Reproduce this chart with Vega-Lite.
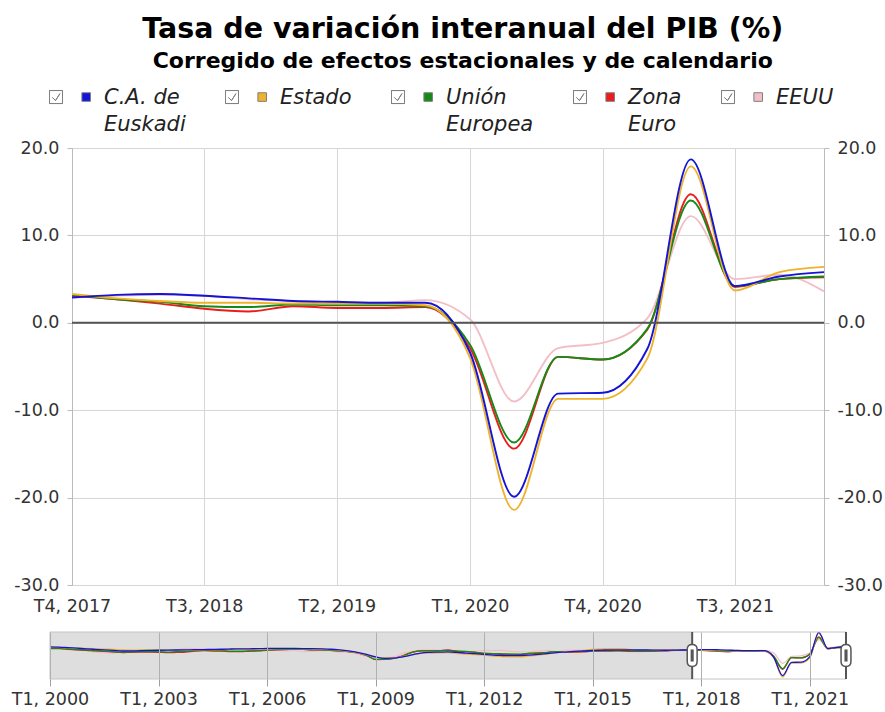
{
  "$schema": "https://vega.github.io/schema/vega-lite/v6.json",
  "background": "white",
  "padding": {"left": 11, "right": 3, "top": 14, "bottom": 3},
  "config": {
    "font": "DejaVu Sans",
    "view": {"stroke": null},
    "axis": {"labelFont": "DejaVu Sans", "labelFontSize": 17.5, "labelColor": "#333333", "gridColor": "#d6d6d6", "domainColor": "#bbbbbb", "tickColor": "#bbbbbb", "title": null}
  },
  "title": {
    "text": "Tasa de variación interanual del PIB (%)",
    "subtitle": "Corregido de efectos estacionales y de calendario",
    "font": "DejaVu Sans", "subtitleFont": "DejaVu Sans",
    "fontSize": 28.5, "subtitleFontSize": 22,
    "fontWeight": "bold", "subtitleFontWeight": "bold",
    "color": "#000000", "subtitleColor": "#000000",
    "anchor": "middle", "subtitlePadding": 8, "offset": -6, "dx": 16
  },
  "datasets": {
    "rango": [{"limite": "2017/10/01"}, {"limite": "2022/01/01"}],
    "pib": [
{"fecha":"2000/01/01","serie":"EEUU","valor":4.2},{"fecha":"2000/04/01","serie":"EEUU","valor":5.2},{"fecha":"2000/07/01","serie":"EEUU","valor":4.0},{"fecha":"2000/10/01","serie":"EEUU","valor":3.0},
{"fecha":"2001/01/01","serie":"EEUU","valor":2.3},{"fecha":"2001/04/01","serie":"EEUU","valor":1.0},{"fecha":"2001/07/01","serie":"EEUU","valor":0.5},{"fecha":"2001/10/01","serie":"EEUU","valor":0.2},
{"fecha":"2002/01/01","serie":"EEUU","valor":1.3},{"fecha":"2002/04/01","serie":"EEUU","valor":1.8},{"fecha":"2002/07/01","serie":"EEUU","valor":2.3},{"fecha":"2002/10/01","serie":"EEUU","valor":2.0},
{"fecha":"2003/01/01","serie":"EEUU","valor":2.0},{"fecha":"2003/04/01","serie":"EEUU","valor":2.3},{"fecha":"2003/07/01","serie":"EEUU","valor":3.3},{"fecha":"2003/10/01","serie":"EEUU","valor":4.3},
{"fecha":"2004/01/01","serie":"EEUU","valor":4.2},{"fecha":"2004/04/01","serie":"EEUU","valor":3.9},{"fecha":"2004/07/01","serie":"EEUU","valor":3.6},{"fecha":"2004/10/01","serie":"EEUU","valor":3.2},
{"fecha":"2005/01/01","serie":"EEUU","valor":3.7},{"fecha":"2005/04/01","serie":"EEUU","valor":3.4},{"fecha":"2005/07/01","serie":"EEUU","valor":3.4},{"fecha":"2005/10/01","serie":"EEUU","valor":3.0},
{"fecha":"2006/01/01","serie":"EEUU","valor":3.2},{"fecha":"2006/04/01","serie":"EEUU","valor":2.7},{"fecha":"2006/07/01","serie":"EEUU","valor":2.3},{"fecha":"2006/10/01","serie":"EEUU","valor":2.6},
{"fecha":"2007/01/01","serie":"EEUU","valor":1.5},{"fecha":"2007/04/01","serie":"EEUU","valor":1.8},{"fecha":"2007/07/01","serie":"EEUU","valor":2.3},{"fecha":"2007/10/01","serie":"EEUU","valor":2.0},
{"fecha":"2008/01/01","serie":"EEUU","valor":1.1},{"fecha":"2008/04/01","serie":"EEUU","valor":1.0},{"fecha":"2008/07/01","serie":"EEUU","valor":-0.5},{"fecha":"2008/10/01","serie":"EEUU","valor":-2.8},
{"fecha":"2009/01/01","serie":"EEUU","valor":-3.3},{"fecha":"2009/04/01","serie":"EEUU","valor":-4.0},{"fecha":"2009/07/01","serie":"EEUU","valor":-3.3},{"fecha":"2009/10/01","serie":"EEUU","valor":-0.2},
{"fecha":"2010/01/01","serie":"EEUU","valor":1.6},{"fecha":"2010/04/01","serie":"EEUU","valor":2.7},{"fecha":"2010/07/01","serie":"EEUU","valor":3.1},{"fecha":"2010/10/01","serie":"EEUU","valor":2.8},
{"fecha":"2011/01/01","serie":"EEUU","valor":1.9},{"fecha":"2011/04/01","serie":"EEUU","valor":1.7},{"fecha":"2011/07/01","serie":"EEUU","valor":1.2},{"fecha":"2011/10/01","serie":"EEUU","valor":1.6},
{"fecha":"2012/01/01","serie":"EEUU","valor":2.6},{"fecha":"2012/04/01","serie":"EEUU","valor":2.4},{"fecha":"2012/07/01","serie":"EEUU","valor":2.5},{"fecha":"2012/10/01","serie":"EEUU","valor":1.6},
{"fecha":"2013/01/01","serie":"EEUU","valor":1.3},{"fecha":"2013/04/01","serie":"EEUU","valor":1.2},{"fecha":"2013/07/01","serie":"EEUU","valor":2.0},{"fecha":"2013/10/01","serie":"EEUU","valor":2.6},
{"fecha":"2014/01/01","serie":"EEUU","valor":1.5},{"fecha":"2014/04/01","serie":"EEUU","valor":2.5},{"fecha":"2014/07/01","serie":"EEUU","valor":2.8},{"fecha":"2014/10/01","serie":"EEUU","valor":2.6},
{"fecha":"2015/01/01","serie":"EEUU","valor":3.7},{"fecha":"2015/04/01","serie":"EEUU","valor":3.2},{"fecha":"2015/07/01","serie":"EEUU","valor":2.4},{"fecha":"2015/10/01","serie":"EEUU","valor":2.2},
{"fecha":"2016/01/01","serie":"EEUU","valor":1.5},{"fecha":"2016/04/01","serie":"EEUU","valor":1.3},{"fecha":"2016/07/01","serie":"EEUU","valor":1.6},{"fecha":"2016/10/01","serie":"EEUU","valor":2.0},
{"fecha":"2017/01/01","serie":"EEUU","valor":1.9},{"fecha":"2017/04/01","serie":"EEUU","valor":2.2},{"fecha":"2017/07/01","serie":"EEUU","valor":2.4},{"fecha":"2017/10/01","serie":"EEUU","valor":2.9},
{"fecha":"2018/01/01","serie":"EEUU","valor":3.1},{"fecha":"2018/04/01","serie":"EEUU","valor":3.2},{"fecha":"2018/07/01","serie":"EEUU","valor":3.1},{"fecha":"2018/10/01","serie":"EEUU","valor":2.7},
{"fecha":"2019/01/01","serie":"EEUU","valor":2.5},{"fecha":"2019/04/01","serie":"EEUU","valor":2.3},{"fecha":"2019/07/01","serie":"EEUU","valor":2.3},{"fecha":"2019/10/01","serie":"EEUU","valor":2.6},
{"fecha":"2020/01/01","serie":"EEUU","valor":0.4},{"fecha":"2020/04/01","serie":"EEUU","valor":-9.0},{"fecha":"2020/07/01","serie":"EEUU","valor":-2.9},{"fecha":"2020/10/01","serie":"EEUU","valor":-2.3},
{"fecha":"2021/01/01","serie":"EEUU","valor":0.5},{"fecha":"2021/04/01","serie":"EEUU","valor":12.2},{"fecha":"2021/07/01","serie":"EEUU","valor":5.0},{"fecha":"2021/10/01","serie":"EEUU","valor":5.5},
{"fecha":"2022/01/01","serie":"EEUU","valor":3.6},
{"fecha":"2000/01/01","serie":"Zona Euro","valor":4.3},{"fecha":"2000/04/01","serie":"Zona Euro","valor":4.2},{"fecha":"2000/07/01","serie":"Zona Euro","valor":3.6},{"fecha":"2000/10/01","serie":"Zona Euro","valor":3.1},
{"fecha":"2001/01/01","serie":"Zona Euro","valor":2.7},{"fecha":"2001/04/01","serie":"Zona Euro","valor":2.1},{"fecha":"2001/07/01","serie":"Zona Euro","valor":1.7},{"fecha":"2001/10/01","serie":"Zona Euro","valor":1.2},
{"fecha":"2002/01/01","serie":"Zona Euro","valor":0.6},{"fecha":"2002/04/01","serie":"Zona Euro","valor":0.9},{"fecha":"2002/07/01","serie":"Zona Euro","valor":1.0},{"fecha":"2002/10/01","serie":"Zona Euro","valor":1.1},
{"fecha":"2003/01/01","serie":"Zona Euro","valor":0.9},{"fecha":"2003/04/01","serie":"Zona Euro","valor":0.5},{"fecha":"2003/07/01","serie":"Zona Euro","valor":0.8},{"fecha":"2003/10/01","serie":"Zona Euro","valor":1.1},
{"fecha":"2004/01/01","serie":"Zona Euro","valor":1.9},{"fecha":"2004/04/01","serie":"Zona Euro","valor":2.3},{"fecha":"2004/07/01","serie":"Zona Euro","valor":2.0},{"fecha":"2004/10/01","serie":"Zona Euro","valor":1.9},
{"fecha":"2005/01/01","serie":"Zona Euro","valor":1.5},{"fecha":"2005/04/01","serie":"Zona Euro","valor":1.5},{"fecha":"2005/07/01","serie":"Zona Euro","valor":1.8},{"fecha":"2005/10/01","serie":"Zona Euro","valor":2.1},
{"fecha":"2006/01/01","serie":"Zona Euro","valor":2.7},{"fecha":"2006/04/01","serie":"Zona Euro","valor":3.1},{"fecha":"2006/07/01","serie":"Zona Euro","valor":3.2},{"fecha":"2006/10/01","serie":"Zona Euro","valor":3.6},
{"fecha":"2007/01/01","serie":"Zona Euro","valor":3.6},{"fecha":"2007/04/01","serie":"Zona Euro","valor":3.0},{"fecha":"2007/07/01","serie":"Zona Euro","valor":3.0},{"fecha":"2007/10/01","serie":"Zona Euro","valor":2.5},
{"fecha":"2008/01/01","serie":"Zona Euro","valor":2.2},{"fecha":"2008/04/01","serie":"Zona Euro","valor":1.5},{"fecha":"2008/07/01","serie":"Zona Euro","valor":0.4},{"fecha":"2008/10/01","serie":"Zona Euro","valor":-1.9},
{"fecha":"2009/01/01","serie":"Zona Euro","valor":-5.6},{"fecha":"2009/04/01","serie":"Zona Euro","valor":-5.5},{"fecha":"2009/07/01","serie":"Zona Euro","valor":-4.6},{"fecha":"2009/10/01","serie":"Zona Euro","valor":-2.3},
{"fecha":"2010/01/01","serie":"Zona Euro","valor":0.9},{"fecha":"2010/04/01","serie":"Zona Euro","valor":2.2},{"fecha":"2010/07/01","serie":"Zona Euro","valor":2.2},{"fecha":"2010/10/01","serie":"Zona Euro","valor":2.2},
{"fecha":"2011/01/01","serie":"Zona Euro","valor":2.9},{"fecha":"2011/04/01","serie":"Zona Euro","valor":1.8},{"fecha":"2011/07/01","serie":"Zona Euro","valor":1.4},{"fecha":"2011/10/01","serie":"Zona Euro","valor":0.7},
{"fecha":"2012/01/01","serie":"Zona Euro","valor":-0.4},{"fecha":"2012/04/01","serie":"Zona Euro","valor":-0.6},{"fecha":"2012/07/01","serie":"Zona Euro","valor":-0.9},{"fecha":"2012/10/01","serie":"Zona Euro","valor":-1.0},
{"fecha":"2013/01/01","serie":"Zona Euro","valor":-1.2},{"fecha":"2013/04/01","serie":"Zona Euro","valor":-0.4},{"fecha":"2013/07/01","serie":"Zona Euro","valor":-0.1},{"fecha":"2013/10/01","serie":"Zona Euro","valor":0.6},
{"fecha":"2014/01/01","serie":"Zona Euro","valor":1.4},{"fecha":"2014/04/01","serie":"Zona Euro","valor":1.0},{"fecha":"2014/07/01","serie":"Zona Euro","valor":1.1},{"fecha":"2014/10/01","serie":"Zona Euro","valor":1.3},
{"fecha":"2015/01/01","serie":"Zona Euro","valor":1.9},{"fecha":"2015/04/01","serie":"Zona Euro","valor":2.0},{"fecha":"2015/07/01","serie":"Zona Euro","valor":2.0},{"fecha":"2015/10/01","serie":"Zona Euro","valor":2.2},
{"fecha":"2016/01/01","serie":"Zona Euro","valor":1.8},{"fecha":"2016/04/01","serie":"Zona Euro","valor":1.7},{"fecha":"2016/07/01","serie":"Zona Euro","valor":1.7},{"fecha":"2016/10/01","serie":"Zona Euro","valor":2.0},
{"fecha":"2017/01/01","serie":"Zona Euro","valor":2.2},{"fecha":"2017/04/01","serie":"Zona Euro","valor":2.6},{"fecha":"2017/07/01","serie":"Zona Euro","valor":2.9},{"fecha":"2017/10/01","serie":"Zona Euro","valor":3.1},
{"fecha":"2018/01/01","serie":"Zona Euro","valor":2.7},{"fecha":"2018/04/01","serie":"Zona Euro","valor":2.2},{"fecha":"2018/07/01","serie":"Zona Euro","valor":1.6},{"fecha":"2018/10/01","serie":"Zona Euro","valor":1.3},
{"fecha":"2019/01/01","serie":"Zona Euro","valor":1.9},{"fecha":"2019/04/01","serie":"Zona Euro","valor":1.7},{"fecha":"2019/07/01","serie":"Zona Euro","valor":1.7},{"fecha":"2019/10/01","serie":"Zona Euro","valor":1.8},
{"fecha":"2020/01/01","serie":"Zona Euro","valor":-2.9},{"fecha":"2020/04/01","serie":"Zona Euro","valor":-14.4},{"fecha":"2020/07/01","serie":"Zona Euro","valor":-3.9},{"fecha":"2020/10/01","serie":"Zona Euro","valor":-4.2},
{"fecha":"2021/01/01","serie":"Zona Euro","valor":-0.8},{"fecha":"2021/04/01","serie":"Zona Euro","valor":14.7},{"fecha":"2021/07/01","serie":"Zona Euro","valor":4.1},{"fecha":"2021/10/01","serie":"Zona Euro","valor":5.0},
{"fecha":"2022/01/01","serie":"Zona Euro","valor":5.2},
{"fecha":"2000/01/01","serie":"Unión Europea","valor":4.2},{"fecha":"2000/04/01","serie":"Unión Europea","valor":4.3},{"fecha":"2000/07/01","serie":"Unión Europea","valor":3.8},{"fecha":"2000/10/01","serie":"Unión Europea","valor":3.3},
{"fecha":"2001/01/01","serie":"Unión Europea","valor":2.8},{"fecha":"2001/04/01","serie":"Unión Europea","valor":2.3},{"fecha":"2001/07/01","serie":"Unión Europea","valor":1.9},{"fecha":"2001/10/01","serie":"Unión Europea","valor":1.3},
{"fecha":"2002/01/01","serie":"Unión Europea","valor":1.0},{"fecha":"2002/04/01","serie":"Unión Europea","valor":1.2},{"fecha":"2002/07/01","serie":"Unión Europea","valor":1.4},{"fecha":"2002/10/01","serie":"Unión Europea","valor":1.5},
{"fecha":"2003/01/01","serie":"Unión Europea","valor":1.3},{"fecha":"2003/04/01","serie":"Unión Europea","valor":1.1},{"fecha":"2003/07/01","serie":"Unión Europea","valor":1.4},{"fecha":"2003/10/01","serie":"Unión Europea","valor":1.6},
{"fecha":"2004/01/01","serie":"Unión Europea","valor":2.3},{"fecha":"2004/04/01","serie":"Unión Europea","valor":2.7},{"fecha":"2004/07/01","serie":"Unión Europea","valor":2.5},{"fecha":"2004/10/01","serie":"Unión Europea","valor":2.4},
{"fecha":"2005/01/01","serie":"Unión Europea","valor":1.8},{"fecha":"2005/04/01","serie":"Unión Europea","valor":1.8},{"fecha":"2005/07/01","serie":"Unión Europea","valor":2.1},{"fecha":"2005/10/01","serie":"Unión Europea","valor":2.3},
{"fecha":"2006/01/01","serie":"Unión Europea","valor":3.0},{"fecha":"2006/04/01","serie":"Unión Europea","valor":3.3},{"fecha":"2006/07/01","serie":"Unión Europea","valor":3.5},{"fecha":"2006/10/01","serie":"Unión Europea","valor":3.6},
{"fecha":"2007/01/01","serie":"Unión Europea","valor":3.6},{"fecha":"2007/04/01","serie":"Unión Europea","valor":3.1},{"fecha":"2007/07/01","serie":"Unión Europea","valor":3.1},{"fecha":"2007/10/01","serie":"Unión Europea","valor":2.6},
{"fecha":"2008/01/01","serie":"Unión Europea","valor":2.2},{"fecha":"2008/04/01","serie":"Unión Europea","valor":1.5},{"fecha":"2008/07/01","serie":"Unión Europea","valor":0.4},{"fecha":"2008/10/01","serie":"Unión Europea","valor":-2.0},
{"fecha":"2009/01/01","serie":"Unión Europea","valor":-5.5},{"fecha":"2009/04/01","serie":"Unión Europea","valor":-5.5},{"fecha":"2009/07/01","serie":"Unión Europea","valor":-4.6},{"fecha":"2009/10/01","serie":"Unión Europea","valor":-2.5},
{"fecha":"2010/01/01","serie":"Unión Europea","valor":0.7},{"fecha":"2010/04/01","serie":"Unión Europea","valor":2.2},{"fecha":"2010/07/01","serie":"Unión Europea","valor":2.3},{"fecha":"2010/10/01","serie":"Unión Europea","valor":2.3},
{"fecha":"2011/01/01","serie":"Unión Europea","valor":2.6},{"fecha":"2011/04/01","serie":"Unión Europea","valor":1.8},{"fecha":"2011/07/01","serie":"Unión Europea","valor":1.6},{"fecha":"2011/10/01","serie":"Unión Europea","valor":0.9},
{"fecha":"2012/01/01","serie":"Unión Europea","valor":0.2},{"fecha":"2012/04/01","serie":"Unión Europea","valor":-0.3},{"fecha":"2012/07/01","serie":"Unión Europea","valor":-0.5},{"fecha":"2012/10/01","serie":"Unión Europea","valor":-0.7},
{"fecha":"2013/01/01","serie":"Unión Europea","valor":-0.7},{"fecha":"2013/04/01","serie":"Unión Europea","valor":0.0},{"fecha":"2013/07/01","serie":"Unión Europea","valor":0.4},{"fecha":"2013/10/01","serie":"Unión Europea","valor":0.8},
{"fecha":"2014/01/01","serie":"Unión Europea","valor":1.5},{"fecha":"2014/04/01","serie":"Unión Europea","valor":1.4},{"fecha":"2014/07/01","serie":"Unión Europea","valor":1.5},{"fecha":"2014/10/01","serie":"Unión Europea","valor":1.7},
{"fecha":"2015/01/01","serie":"Unión Europea","valor":2.0},{"fecha":"2015/04/01","serie":"Unión Europea","valor":2.3},{"fecha":"2015/07/01","serie":"Unión Europea","valor":2.3},{"fecha":"2015/10/01","serie":"Unión Europea","valor":2.4},
{"fecha":"2016/01/01","serie":"Unión Europea","valor":2.2},{"fecha":"2016/04/01","serie":"Unión Europea","valor":2.0},{"fecha":"2016/07/01","serie":"Unión Europea","valor":1.9},{"fecha":"2016/10/01","serie":"Unión Europea","valor":2.1},
{"fecha":"2017/01/01","serie":"Unión Europea","valor":2.3},{"fecha":"2017/04/01","serie":"Unión Europea","valor":2.8},{"fecha":"2017/07/01","serie":"Unión Europea","valor":3.0},{"fecha":"2017/10/01","serie":"Unión Europea","valor":3.2},
{"fecha":"2018/01/01","serie":"Unión Europea","valor":2.7},{"fecha":"2018/04/01","serie":"Unión Europea","valor":2.4},{"fecha":"2018/07/01","serie":"Unión Europea","valor":1.9},{"fecha":"2018/10/01","serie":"Unión Europea","valor":1.8},
{"fecha":"2019/01/01","serie":"Unión Europea","valor":2.1},{"fecha":"2019/04/01","serie":"Unión Europea","valor":2.0},{"fecha":"2019/07/01","serie":"Unión Europea","valor":2.0},{"fecha":"2019/10/01","serie":"Unión Europea","valor":1.9},
{"fecha":"2020/01/01","serie":"Unión Europea","valor":-2.5},{"fecha":"2020/04/01","serie":"Unión Europea","valor":-13.7},{"fecha":"2020/07/01","serie":"Unión Europea","valor":-3.9},{"fecha":"2020/10/01","serie":"Unión Europea","valor":-4.2},
{"fecha":"2021/01/01","serie":"Unión Europea","valor":-0.7},{"fecha":"2021/04/01","serie":"Unión Europea","valor":14.0},{"fecha":"2021/07/01","serie":"Unión Europea","valor":4.2},{"fecha":"2021/10/01","serie":"Unión Europea","valor":5.0},
{"fecha":"2022/01/01","serie":"Unión Europea","valor":5.3},
{"fecha":"2000/01/01","serie":"Estado","valor":5.4},{"fecha":"2000/04/01","serie":"Estado","valor":5.3},{"fecha":"2000/07/01","serie":"Estado","valor":5.0},{"fecha":"2000/10/01","serie":"Estado","valor":4.5},
{"fecha":"2001/01/01","serie":"Estado","valor":4.4},{"fecha":"2001/04/01","serie":"Estado","valor":4.0},{"fecha":"2001/07/01","serie":"Estado","valor":3.7},{"fecha":"2001/10/01","serie":"Estado","valor":3.4},
{"fecha":"2002/01/01","serie":"Estado","valor":2.9},{"fecha":"2002/04/01","serie":"Estado","valor":2.8},{"fecha":"2002/07/01","serie":"Estado","valor":2.9},{"fecha":"2002/10/01","serie":"Estado","valor":2.9},
{"fecha":"2003/01/01","serie":"Estado","valor":3.0},{"fecha":"2003/04/01","serie":"Estado","valor":3.0},{"fecha":"2003/07/01","serie":"Estado","valor":3.1},{"fecha":"2003/10/01","serie":"Estado","valor":3.1},
{"fecha":"2004/01/01","serie":"Estado","valor":3.1},{"fecha":"2004/04/01","serie":"Estado","valor":3.2},{"fecha":"2004/07/01","serie":"Estado","valor":3.2},{"fecha":"2004/10/01","serie":"Estado","valor":3.3},
{"fecha":"2005/01/01","serie":"Estado","valor":3.6},{"fecha":"2005/04/01","serie":"Estado","valor":3.7},{"fecha":"2005/07/01","serie":"Estado","valor":3.7},{"fecha":"2005/10/01","serie":"Estado","valor":3.8},
{"fecha":"2006/01/01","serie":"Estado","valor":4.0},{"fecha":"2006/04/01","serie":"Estado","valor":4.1},{"fecha":"2006/07/01","serie":"Estado","valor":4.1},{"fecha":"2006/10/01","serie":"Estado","valor":4.1},
{"fecha":"2007/01/01","serie":"Estado","valor":4.0},{"fecha":"2007/04/01","serie":"Estado","valor":3.8},{"fecha":"2007/07/01","serie":"Estado","valor":3.6},{"fecha":"2007/10/01","serie":"Estado","valor":3.3},
{"fecha":"2008/01/01","serie":"Estado","valor":2.7},{"fecha":"2008/04/01","serie":"Estado","valor":1.8},{"fecha":"2008/07/01","serie":"Estado","valor":0.4},{"fecha":"2008/10/01","serie":"Estado","valor":-1.3},
{"fecha":"2009/01/01","serie":"Estado","valor":-3.4},{"fecha":"2009/04/01","serie":"Estado","valor":-4.4},{"fecha":"2009/07/01","serie":"Estado","valor":-4.2},{"fecha":"2009/10/01","serie":"Estado","valor":-3.0},
{"fecha":"2010/01/01","serie":"Estado","valor":-1.4},{"fecha":"2010/04/01","serie":"Estado","valor":-0.1},{"fecha":"2010/07/01","serie":"Estado","valor":0.1},{"fecha":"2010/10/01","serie":"Estado","valor":0.3},
{"fecha":"2011/01/01","serie":"Estado","valor":0.5},{"fecha":"2011/04/01","serie":"Estado","valor":-0.2},{"fecha":"2011/07/01","serie":"Estado","valor":-0.8},{"fecha":"2011/10/01","serie":"Estado","valor":-1.1},
{"fecha":"2012/01/01","serie":"Estado","valor":-1.7},{"fecha":"2012/04/01","serie":"Estado","valor":-2.5},{"fecha":"2012/07/01","serie":"Estado","valor":-3.0},{"fecha":"2012/10/01","serie":"Estado","valor":-3.3},
{"fecha":"2013/01/01","serie":"Estado","valor":-3.2},{"fecha":"2013/04/01","serie":"Estado","valor":-2.3},{"fecha":"2013/07/01","serie":"Estado","valor":-1.6},{"fecha":"2013/10/01","serie":"Estado","valor":-0.5},
{"fecha":"2014/01/01","serie":"Estado","valor":0.6},{"fecha":"2014/04/01","serie":"Estado","valor":1.4},{"fecha":"2014/07/01","serie":"Estado","valor":2.1},{"fecha":"2014/10/01","serie":"Estado","valor":2.6},
{"fecha":"2015/01/01","serie":"Estado","valor":3.4},{"fecha":"2015/04/01","serie":"Estado","valor":4.0},{"fecha":"2015/07/01","serie":"Estado","valor":4.2},{"fecha":"2015/10/01","serie":"Estado","valor":4.2},
{"fecha":"2016/01/01","serie":"Estado","valor":3.5},{"fecha":"2016/04/01","serie":"Estado","valor":3.1},{"fecha":"2016/07/01","serie":"Estado","valor":2.9},{"fecha":"2016/10/01","serie":"Estado","valor":2.9},
{"fecha":"2017/01/01","serie":"Estado","valor":3.0},{"fecha":"2017/04/01","serie":"Estado","valor":3.1},{"fecha":"2017/07/01","serie":"Estado","valor":3.0},{"fecha":"2017/10/01","serie":"Estado","valor":3.3},
{"fecha":"2018/01/01","serie":"Estado","valor":2.8},{"fecha":"2018/04/01","serie":"Estado","valor":2.5},{"fecha":"2018/07/01","serie":"Estado","valor":2.3},{"fecha":"2018/10/01","serie":"Estado","valor":2.3},
{"fecha":"2019/01/01","serie":"Estado","valor":2.2},{"fecha":"2019/04/01","serie":"Estado","valor":2.2},{"fecha":"2019/07/01","serie":"Estado","valor":2.2},{"fecha":"2019/10/01","serie":"Estado","valor":2.0},
{"fecha":"2020/01/01","serie":"Estado","valor":-4.0},{"fecha":"2020/04/01","serie":"Estado","valor":-21.4},{"fecha":"2020/07/01","serie":"Estado","valor":-8.7},{"fecha":"2020/10/01","serie":"Estado","valor":-8.7},
{"fecha":"2021/01/01","serie":"Estado","valor":-4.1},{"fecha":"2021/04/01","serie":"Estado","valor":17.9},{"fecha":"2021/07/01","serie":"Estado","valor":3.7},{"fecha":"2021/10/01","serie":"Estado","valor":5.8},
{"fecha":"2022/01/01","serie":"Estado","valor":6.4},
{"fecha":"2000/01/01","serie":"C.A. de Euskadi","valor":5.8},{"fecha":"2000/04/01","serie":"C.A. de Euskadi","valor":5.5},{"fecha":"2000/07/01","serie":"C.A. de Euskadi","valor":5.0},{"fecha":"2000/10/01","serie":"C.A. de Euskadi","valor":4.5},
{"fecha":"2001/01/01","serie":"C.A. de Euskadi","valor":4.0},{"fecha":"2001/04/01","serie":"C.A. de Euskadi","valor":3.5},{"fecha":"2001/07/01","serie":"C.A. de Euskadi","valor":3.0},{"fecha":"2001/10/01","serie":"C.A. de Euskadi","valor":2.5},
{"fecha":"2002/01/01","serie":"C.A. de Euskadi","valor":2.0},{"fecha":"2002/04/01","serie":"C.A. de Euskadi","valor":2.1},{"fecha":"2002/07/01","serie":"C.A. de Euskadi","valor":2.3},{"fecha":"2002/10/01","serie":"C.A. de Euskadi","valor":2.5},
{"fecha":"2003/01/01","serie":"C.A. de Euskadi","valor":2.7},{"fecha":"2003/04/01","serie":"C.A. de Euskadi","valor":2.8},{"fecha":"2003/07/01","serie":"C.A. de Euskadi","valor":2.9},{"fecha":"2003/10/01","serie":"C.A. de Euskadi","valor":3.0},
{"fecha":"2004/01/01","serie":"C.A. de Euskadi","valor":3.2},{"fecha":"2004/04/01","serie":"C.A. de Euskadi","valor":3.3},{"fecha":"2004/07/01","serie":"C.A. de Euskadi","valor":3.4},{"fecha":"2004/10/01","serie":"C.A. de Euskadi","valor":3.6},
{"fecha":"2005/01/01","serie":"C.A. de Euskadi","valor":3.8},{"fecha":"2005/04/01","serie":"C.A. de Euskadi","valor":3.9},{"fecha":"2005/07/01","serie":"C.A. de Euskadi","valor":4.0},{"fecha":"2005/10/01","serie":"C.A. de Euskadi","valor":4.1},
{"fecha":"2006/01/01","serie":"C.A. de Euskadi","valor":4.3},{"fecha":"2006/04/01","serie":"C.A. de Euskadi","valor":4.4},{"fecha":"2006/07/01","serie":"C.A. de Euskadi","valor":4.4},{"fecha":"2006/10/01","serie":"C.A. de Euskadi","valor":4.3},
{"fecha":"2007/01/01","serie":"C.A. de Euskadi","valor":4.2},{"fecha":"2007/04/01","serie":"C.A. de Euskadi","valor":4.1},{"fecha":"2007/07/01","serie":"C.A. de Euskadi","valor":3.9},{"fecha":"2007/10/01","serie":"C.A. de Euskadi","valor":3.6},
{"fecha":"2008/01/01","serie":"C.A. de Euskadi","valor":3.0},{"fecha":"2008/04/01","serie":"C.A. de Euskadi","valor":2.1},{"fecha":"2008/07/01","serie":"C.A. de Euskadi","valor":0.8},{"fecha":"2008/10/01","serie":"C.A. de Euskadi","valor":-1.0},
{"fecha":"2009/01/01","serie":"C.A. de Euskadi","valor":-3.3},{"fecha":"2009/04/01","serie":"C.A. de Euskadi","valor":-4.5},{"fecha":"2009/07/01","serie":"C.A. de Euskadi","valor":-4.4},{"fecha":"2009/10/01","serie":"C.A. de Euskadi","valor":-3.2},
{"fecha":"2010/01/01","serie":"C.A. de Euskadi","valor":-1.5},{"fecha":"2010/04/01","serie":"C.A. de Euskadi","valor":0.2},{"fecha":"2010/07/01","serie":"C.A. de Euskadi","valor":0.8},{"fecha":"2010/10/01","serie":"C.A. de Euskadi","valor":1.0},
{"fecha":"2011/01/01","serie":"C.A. de Euskadi","valor":1.2},{"fecha":"2011/04/01","serie":"C.A. de Euskadi","valor":0.8},{"fecha":"2011/07/01","serie":"C.A. de Euskadi","valor":0.2},{"fecha":"2011/10/01","serie":"C.A. de Euskadi","valor":-0.3},
{"fecha":"2012/01/01","serie":"C.A. de Euskadi","valor":-1.0},{"fecha":"2012/04/01","serie":"C.A. de Euskadi","valor":-1.7},{"fecha":"2012/07/01","serie":"C.A. de Euskadi","valor":-2.0},{"fecha":"2012/10/01","serie":"C.A. de Euskadi","valor":-2.2},
{"fecha":"2013/01/01","serie":"C.A. de Euskadi","valor":-2.0},{"fecha":"2013/04/01","serie":"C.A. de Euskadi","valor":-1.6},{"fecha":"2013/07/01","serie":"C.A. de Euskadi","valor":-1.0},{"fecha":"2013/10/01","serie":"C.A. de Euskadi","valor":-0.3},
{"fecha":"2014/01/01","serie":"C.A. de Euskadi","valor":0.6},{"fecha":"2014/04/01","serie":"C.A. de Euskadi","valor":1.1},{"fecha":"2014/07/01","serie":"C.A. de Euskadi","valor":1.6},{"fecha":"2014/10/01","serie":"C.A. de Euskadi","valor":2.0},
{"fecha":"2015/01/01","serie":"C.A. de Euskadi","valor":2.5},{"fecha":"2015/04/01","serie":"C.A. de Euskadi","valor":2.8},{"fecha":"2015/07/01","serie":"C.A. de Euskadi","valor":3.1},{"fecha":"2015/10/01","serie":"C.A. de Euskadi","valor":3.1},
{"fecha":"2016/01/01","serie":"C.A. de Euskadi","valor":3.0},{"fecha":"2016/04/01","serie":"C.A. de Euskadi","valor":2.9},{"fecha":"2016/07/01","serie":"C.A. de Euskadi","valor":2.9},{"fecha":"2016/10/01","serie":"C.A. de Euskadi","valor":2.8},
{"fecha":"2017/01/01","serie":"C.A. de Euskadi","valor":2.7},{"fecha":"2017/04/01","serie":"C.A. de Euskadi","valor":2.8},{"fecha":"2017/07/01","serie":"C.A. de Euskadi","valor":2.9},{"fecha":"2017/10/01","serie":"C.A. de Euskadi","valor":2.9},
{"fecha":"2018/01/01","serie":"C.A. de Euskadi","valor":3.2},{"fecha":"2018/04/01","serie":"C.A. de Euskadi","valor":3.3},{"fecha":"2018/07/01","serie":"C.A. de Euskadi","valor":3.1},{"fecha":"2018/10/01","serie":"C.A. de Euskadi","valor":2.8},
{"fecha":"2019/01/01","serie":"C.A. de Euskadi","valor":2.5},{"fecha":"2019/04/01","serie":"C.A. de Euskadi","valor":2.4},{"fecha":"2019/07/01","serie":"C.A. de Euskadi","valor":2.3},{"fecha":"2019/10/01","serie":"C.A. de Euskadi","valor":2.3},
{"fecha":"2020/01/01","serie":"C.A. de Euskadi","valor":-3.4},{"fecha":"2020/04/01","serie":"C.A. de Euskadi","valor":-19.9},{"fecha":"2020/07/01","serie":"C.A. de Euskadi","valor":-8.1},{"fecha":"2020/10/01","serie":"C.A. de Euskadi","valor":-8.0},
{"fecha":"2021/01/01","serie":"C.A. de Euskadi","valor":-3.0},{"fecha":"2021/04/01","serie":"C.A. de Euskadi","valor":18.7},{"fecha":"2021/07/01","serie":"C.A. de Euskadi","valor":4.2},{"fecha":"2021/10/01","serie":"C.A. de Euskadi","valor":5.3},
{"fecha":"2022/01/01","serie":"C.A. de Euskadi","valor":5.8}
    ]
  },
  "vconcat": [
    {
      "width": 752,
      "height": 437,
      "layer": [
        {
          "data": {"name": "pib"},
          "transform": [{"filter": {"field": "fecha", "range": [{"year": 2017, "month": 10, "date": 1}, {"year": 2022, "month": 1, "date": 1}]}}],
          "mark": {"type": "line", "interpolate": "monotone", "strokeWidth": 1.9},
          "encoding": {
            "x": {
              "field": "fecha", "type": "temporal",
              "scale": {"domain": [{"year": 2017, "month": 10, "date": 1}, {"year": 2022, "month": 1, "date": 1}]},
              "axis": {
                "values": [{"year": 2017, "month": 10, "date": 1}, {"year": 2018, "month": 7, "date": 1}, {"year": 2019, "month": 4, "date": 1}, {"year": 2020, "month": 1, "date": 1}, {"year": 2020, "month": 10, "date": 1}, {"year": 2021, "month": 7, "date": 1}],
                "labelExpr": "'T' + quarter(datum.value) + ', ' + year(datum.value)",
                "grid": true, "ticks": false, "domain": false, "labelPadding": 12, "labelFlush": false, "labelOverlap": false
              }
            },
            "y": {
              "field": "valor", "type": "quantitative",
              "scale": {"domain": [-30, 20], "nice": false},
              "axis": {"values": [-30, -20, -10, 0, 10, 20], "labelExpr": "(datum.value < 0 ? '-' : '') + format(abs(datum.value), '.1f')", "grid": true, "tickSize": 5, "labelPadding": 8}
            },
            "color": {
              "field": "serie", "type": "nominal",
              "scale": {"domain": ["EEUU", "Zona Euro", "Unión Europea", "Estado", "C.A. de Euskadi"], "range": ["#f3bfc7", "#ec1c1c", "#168a16", "#efb22c", "#1414d6"]},
              "legend": null
            }
          }
        },
        {
          "data": {"name": "pib"},
          "transform": [{"filter": {"field": "fecha", "range": [{"year": 2017, "month": 10, "date": 1}, {"year": 2022, "month": 1, "date": 1}]}}],
          "mark": {"type": "point", "filled": true, "opacity": 0},
          "encoding": {
            "x": {"field": "fecha", "type": "temporal"},
            "y": {"field": "valor", "type": "quantitative", "scale": {"domain": [-30, 20], "nice": false}, "axis": null},
            "fill": {
              "field": "serie", "type": "nominal",
              "scale": {"domain": ["C.A. de Euskadi", "Estado", "Unión Europea", "Zona Euro", "EEUU"], "range": ["#1414d6", "#efb22c", "#168a16", "#ec1c1c", "#f3bfc7"]},
              "legend": {
                "orient": "none", "legendX": -23, "legendY": -82, "direction": "horizontal", "columns": 5, "title": null, "padding": 0,
                "symbolType": "M-1,0.173L-0.366,0.173L-0.366,0.807L-1,0.807L-1,0.173L-1,0.807L-0.366,0.807L-0.366,0.173L-1,0.173M-0.854,0.514L-0.707,0.661L-0.488,0.319L-0.707,0.661L-0.854,0.514M0.58,0.28L1,0.28L1,0.7L0.58,0.7Z",
                "symbolSize": 1681, "symbolStrokeWidth": 1, "symbolStrokeColor": "#808080", "symbolOpacity": 1,
                "labelFont": "DejaVu Sans", "labelFontSize": 21, "labelFontStyle": "italic", "labelColor": "#222222", "labelBaseline": "top", "labelOffset": 13, "labelLimit": 400,
                "columnPadding": 37,
                "labelExpr": "datum.label == 'C.A. de Euskadi' ? ['C.A. de', 'Euskadi'] : datum.label == 'Unión Europea' ? ['Unión', 'Europea'] : datum.label == 'Zona Euro' ? ['Zona', 'Euro'] : [datum.label, ' ']",
                "encode": {
                  "symbols": {"update": {"stroke": {"value": "#808080"}, "strokeWidth": {"value": 1}, "opacity": {"value": 1}}},
                  "labels": {"update": {"lineHeight": {"value": 27}}}
                }
              }
            }
          }
        },
        {
          "data": {"values": [{}]},
          "mark": {"type": "rule", "color": "#555555", "strokeWidth": 2},
          "encoding": {
            "y": {
              "datum": 0, "type": "quantitative",
              "scale": {"domain": [-30, 20], "nice": false},
              "axis": {"orient": "right", "values": [-30, -20, -10, 0, 10, 20], "labelExpr": "(datum.value < 0 ? '-' : '') + format(abs(datum.value), '.1f')", "grid": false, "tickSize": 5, "labelPadding": 8}
            }
          }
        }
      ],
      "resolve": {"scale": {"y": "independent"}}
    },
    {
      "width": 752,
      "height": 47,
      "layer": [
        {
          "data": {"values": [{}]},
          "mark": {"type": "rect", "fill": "#dedede"},
          "encoding": {
            "x": {"datum": {"year": 2000, "month": 1, "date": 1}, "type": "temporal"},
            "x2": {"datum": {"year": 2017, "month": 10, "date": 1}}
          }
        },
        {
          "data": {"name": "pib"},
          "mark": {"type": "line", "interpolate": "monotone", "strokeWidth": 1.3},
          "encoding": {
            "x": {
              "field": "fecha", "type": "temporal",
              "scale": {"domain": [{"year": 2000, "month": 1, "date": 1}, {"year": 2022, "month": 1, "date": 1}], "range": [-22, 774]},
              "axis": {
                "values": [{"year": 2000, "month": 1, "date": 1}, {"year": 2003, "month": 1, "date": 1}, {"year": 2006, "month": 1, "date": 1}, {"year": 2009, "month": 1, "date": 1}, {"year": 2012, "month": 1, "date": 1}, {"year": 2015, "month": 1, "date": 1}, {"year": 2018, "month": 1, "date": 1}, {"year": 2021, "month": 1, "date": 1}],
                "labelExpr": "'T' + quarter(datum.value) + ', ' + year(datum.value)",
                "grid": true, "gridColor": "#b0b0b0", "tickSize": 7, "tickColor": "#a0a0a0", "domain": false, "labelPadding": 4, "labelFlush": false, "labelOverlap": false, "zindex": 1
              }
            },
            "y": {"field": "valor", "type": "quantitative", "scale": {"domain": [-23, 19], "nice": false, "zero": false}, "axis": null},
            "color": {"field": "serie", "type": "nominal", "legend": null}
          }
        },
        {
          "data": {"values": [{}]},
          "mark": {"type": "rect", "fill": null, "stroke": "#c4c4c4", "strokeWidth": 1},
          "encoding": {
            "x": {"datum": {"year": 2000, "month": 1, "date": 1}, "type": "temporal"},
            "x2": {"datum": {"year": 2022, "month": 1, "date": 1}}
          }
        },
        {
          "data": {"name": "rango"},
          "mark": {"type": "rule", "color": "#555555", "strokeWidth": 2},
          "encoding": {"x": {"field": "limite", "type": "temporal"}}
        },
        {
          "data": {"name": "rango"},
          "mark": {"type": "point", "filled": true, "fill": "#ffffff", "stroke": "#555555", "strokeWidth": 1.5, "opacity": 1, "size": 484, "shape": "M-0.45,-0.55Q-0.45,-1 0,-1Q0.45,-1 0.45,-0.55L0.45,0.55Q0.45,1 0,1Q-0.45,1 -0.45,0.55Z"},
          "encoding": {"x": {"field": "limite", "type": "temporal"}, "y": {"datum": -2}}
        },
        {
          "data": {"name": "rango"},
          "mark": {"type": "point", "filled": true, "fill": "#555555", "strokeWidth": 0, "opacity": 1, "size": 484, "shape": "M-0.14,-0.55L0.14,-0.55L0.14,0.55L-0.14,0.55Z"},
          "encoding": {"x": {"field": "limite", "type": "temporal"}, "y": {"datum": -2}}
        }
      ]
    }
  ],
  "spacing": 14,
  "resolve": {"scale": {"color": "shared", "fill": "shared", "x": "independent", "y": "independent"}}
}
